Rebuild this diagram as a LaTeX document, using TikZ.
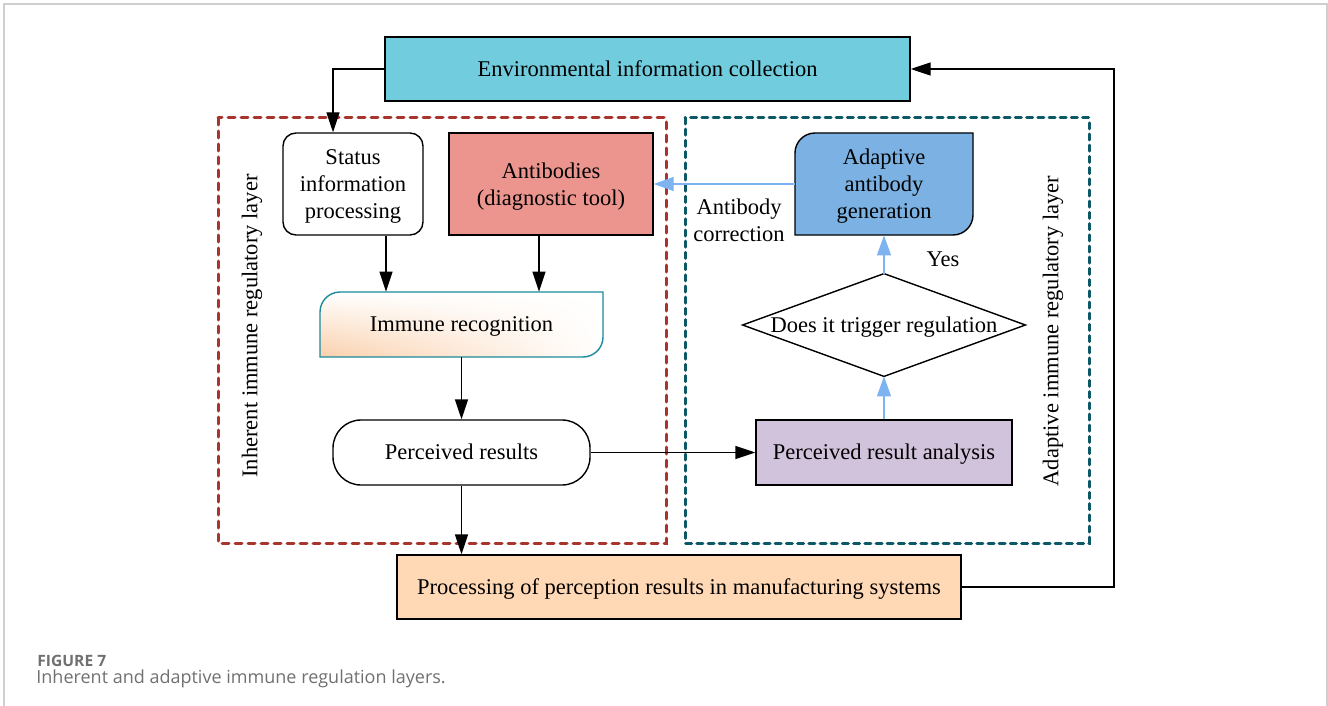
\documentclass[tikz,border=0pt]{standalone}
\usepackage{fontspec}
\setmainfont{Liberation Serif}
\newfontfamily\capfont{Open Sans}
\usetikzlibrary{arrows.meta,shadings}
\definecolor{envcol}{HTML}{71CDDD}
\definecolor{anticol}{HTML}{EC958E}
\definecolor{adacol}{HTML}{7BB2E3}
\definecolor{anacol}{HTML}{D2C3DC}
\definecolor{proccol}{HTML}{FFD8B6}
\definecolor{inhdash}{HTML}{A8342E}
\definecolor{adadash}{HTML}{0D5866}
\definecolor{irecline}{HTML}{1B8A9B}
\definecolor{irecfill}{HTML}{FAD0AC}
\definecolor{arrblue}{HTML}{7EB3F2}
\definecolor{capgray}{HTML}{707070}
\definecolor{framegray}{HTML}{CFCFCF}
\begin{document}
\begin{tikzpicture}[x=0.5pt, y=-0.5pt, >={Triangle[length=10pt,width=6.5pt]},
                font=\fontsize{11.25}{13.5}\selectfont,
                box/.style={draw, line width=0.7pt, inner sep=0pt, align=center},
                hidden/.style={inner sep=0pt, align=center},
                oneline/.style={text height=0.74em, text depth=0pt},
                link/.style={->, line width=0.7pt},
                blink/.style={-{Triangle[length=10pt,width=7pt]}, line width=0.7pt, draw=arrblue},
                layer/.style={line width=1.5pt, line cap=round, dash pattern=on 3.5pt off 3pt}]
                \useasboundingbox (0,0) rectangle (1328,706);
                \draw[framegray, line width=0.8pt] (4,706) -- (4,4) -- (1327,4) -- (1327,706);
                \draw[layer, inhdash] (218,118) rectangle (666,543);
                \draw[layer, adadash, dash pattern=on 3pt off 2.6pt] (685,118) rectangle (1089,543);
                \node[box, oneline, fill=envcol, minimum width=262.5pt, minimum height=32pt] (env) at (647.5,69) {Environmental information collection};
                \node[box, text height=36.6pt, rounded corners=6.5pt, minimum width=70pt, minimum height=51pt] (status) at (353,184) {Status\\information\\processing};
                \node[box, text height=24.2pt, fill=anticol, minimum width=102pt, minimum height=51pt] (anti) at (551,184) {Antibodies\\(diagnostic tool)};
                \path[shade, draw=irecline, line width=0.7pt, lower left=irecfill, upper left=white, upper right=white, lower right=white]
                    (320,357) -- (320,312) .. controls (320,301) and (329,292) .. (340,292) -- (603,292)
                    -- (603,337) .. controls (603,348) and (594,357) .. (583,357) -- cycle;
                \node[hidden, oneline, minimum width=141.5pt, minimum height=32.5pt] (irec) at (461.5,324.5) {Immune recognition};
                \node[box, oneline, rounded corners=14pt, minimum width=128.5pt, minimum height=32.5pt] (pres) at (461.5,452.5) {Perceived results};
                \node[box, oneline, fill=proccol, minimum width=282pt, minimum height=32pt] (proc) at (679,587) {Processing of perception results in manufacturing systems};
                \node[box, oneline, fill=anacol, minimum width=128pt, minimum height=32.5pt] (ana) at (884,452.5) {Perceived result analysis};
                \node[hidden, oneline, minimum width=141pt, minimum height=51pt] (dia) at (884,325) {Does it trigger regulation};
                \draw[line width=0.7pt] (dia.north) -- (dia.east) -- (dia.south) -- (dia.west) -- cycle;
                \path[draw, fill=adacol, line width=0.7pt]
                    (795,235) -- (795,153) .. controls (795,142) and (804,133) .. (815,133) -- (973,133)
                    -- (973,215) .. controls (973,226) and (964,235) .. (953,235) -- cycle;
                \node[hidden, text height=36.7pt, minimum width=89pt, minimum height=51pt] (adapt) at (884,184) {Adaptive\\antibody\\generation};
                \node[hidden] (yes) at (943,259) {Yes};
                \node[hidden] (corr) at (739,220) {Antibody\\correction};
                \node[hidden, rotate=90] (inhlbl) at (252,326) {Inherent immune regulatory layer};
                \node[hidden, rotate=90] (adalbl) at (1053,331) {Adaptive immune regulatory layer};
                \coordinate (back) at (1114,69);
                \draw[link] (env.west) -| ([xshift=-10pt]status.north);
                \draw[link] ([xshift=16.5pt]status.south) -- ([xshift=16.5pt]status.south |- irec.north);
                \draw[link] ([xshift=-6pt]anti.south) -- ([xshift=-6pt]anti.south |- irec.north);
                \draw[link] (irec.south) -- (pres.north);
                \draw[link] (pres.east) -- (ana.west);
                \draw[link] (pres.south) -- (pres.south |- proc.north);
                \draw[link] (proc.east) -| (back) -- (env.east);
                \draw[blink] (ana.north) -- (dia.south);
                \draw[blink] (dia.north) -- (adapt.south);
                \draw[blink] (adapt.west) -- (anti.east);
                \node[anchor=base west, inner sep=0pt, text=capgray, font=\capfont\fontsize{7.8}{9}\selectfont\bfseries] (fig) at (37,666) {FIGURE 7};
                \node[anchor=base west, inner sep=0pt, text=capgray, font=\capfont\fontsize{9}{10}\selectfont] (cap) at (36,683) {Inherent and adaptive immune regulation layers.};
            \end{tikzpicture}
\end{document}
